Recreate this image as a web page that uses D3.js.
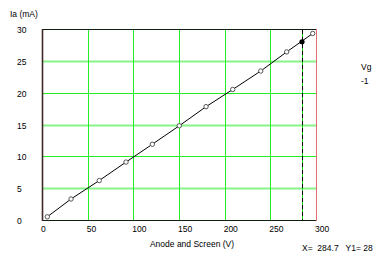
<!DOCTYPE html>
<html>
<head>
<meta charset="UTF-8">
<title>Ia vs Anode and Screen</title>
<script src="https://d3js.org/d3.v7.min.js"></script>
<style>
 body { margin:0; background:#fff; }
 text { font-family:"Liberation Sans", Arial, sans-serif; font-size:8.5px; fill:#000; white-space:pre; }
</style>
</head>
<body>
<script>
// measured points
var voltage = [5.8, 31.8, 62.7, 92, 120.8, 150.3, 179.6, 208.8, 239.5, 267.9, 296.4];
var current = [0.5, 3.3, 6.2, 9.1, 11.9, 14.8, 17.8, 20.5, 23.4, 26.4, 29.3];
var xTicks = [0, 50, 100, 150, 200, 250, 300];
var yTicks = [0, 5, 10, 15, 20, 25, 30];
var cursorX = [284.7];
var cursorY = [28];
var vgLabel = ["Vg", "-1"];

var width = 388, height = 263;
var svg = d3.select("body").append("svg")
  .attr("width", width).attr("height", height);

var x = d3.scaleLinear().domain([0, 300]).range([42, 316]);
var y = d3.scaleLinear().domain([0, 30]).range([220, 29]);

// grid
svg.selectAll(".hg").data(yTicks.filter(function(d){ return d > 0 && d < 30; }))
  .enter().append("line")
  .attr("x1", x(0)).attr("x2", x(300))
  .attr("y1", function(d){ return Math.round(y(d)) + 0.5; })
  .attr("y2", function(d){ return Math.round(y(d)) + 0.5; })
  .attr("stroke", function(d){ return d % 10 == 5 ? "#88f488" : "#22ee22"; })
  .attr("stroke-width", function(d){ return d % 10 == 5 ? 2 : 1; });

svg.selectAll(".vg").data(xTicks.filter(function(d){ return d > 0 && d < 300; }))
  .enter().append("line")
  .attr("y1", y(30)).attr("y2", y(0))
  .attr("x1", function(d){ return Math.round(x(d)) + 0.5; })
  .attr("x2", function(d){ return Math.round(x(d)) + 0.5; })
  .attr("stroke", "#22ee22");

// frame
svg.append("line").attr("x1", x(0)).attr("x2", x(300)).attr("y1", 29.5).attr("y2", 29.5).attr("stroke", "#102010");
svg.append("line").attr("x1", x(0)).attr("x2", x(300)).attr("y1", 220.5).attr("y2", 220.5).attr("stroke", "#102010");
svg.append("line").attr("x1", 316.5).attr("x2", 316.5).attr("y1", 29).attr("y2", 221).attr("stroke", "#e07070");
svg.append("line").attr("x1", 42.5).attr("x2", 42.5).attr("y1", 29).attr("y2", 221).attr("stroke", "#402828").attr("stroke-width", 1.6);

// cursor
svg.append("line").attr("x1", Math.round(x(cursorX[0])) + 0.5).attr("x2", Math.round(x(cursorX[0])) + 0.5)
  .attr("y1", 30).attr("y2", 220).attr("stroke", "#10d010");
svg.append("line").attr("x1", Math.round(x(cursorX[0])) + 0.5).attr("x2", Math.round(x(cursorX[0])) + 0.5)
  .attr("y1", 30).attr("y2", 220).attr("stroke", "#000").attr("stroke-dasharray", "4,3");

// curve
var pts = voltage.map(function(v, i){ return [v, current[i]]; });
svg.append("path").datum(pts)
  .attr("d", d3.line().x(function(d){ return x(d[0]); }).y(function(d){ return y(d[1]); }))
  .attr("fill", "none").attr("stroke", "#000").attr("stroke-width", 1);

svg.selectAll(".pt").data(pts).enter().append("circle")
  .attr("cx", function(d){ return x(d[0]); })
  .attr("cy", function(d){ return y(d[1]); })
  .attr("r", 2.2).attr("fill", "#fff").attr("stroke", "#555").attr("stroke-width", 1);

svg.append("circle").attr("cx", x(cursorX[0])).attr("cy", y(cursorY[0]))
  .attr("r", 2.6).attr("fill", "#000");

// tick labels
svg.selectAll(".yl").data(yTicks).enter().append("text")
  .attr("x", 17).attr("y", function(d){ return y(d) + 4; })
  .text(function(d){ return d; });

svg.selectAll(".xl").data(xTicks).enter().append("text")
  .attr("x", function(d){ return x(d) - 1; }).attr("y", 232)
  .text(function(d){ return d; });

svg.append("text").attr("x", 10).attr("y", 17).text("Ia (mA)");
svg.append("text").attr("x", 192).attr("y", 247).attr("text-anchor", "middle").text("Anode and Screen (V)");
svg.append("text").attr("x", 302).attr("y", 251)
  .text("X=  " + cursorX[0] + "   Y1= " + cursorY[0]);
svg.append("text").attr("x", 361).attr("y", 70).text(vgLabel[0]);
svg.append("text").attr("x", 361).attr("y", 84).text(vgLabel[1]);
</script>
</body>
</html>
